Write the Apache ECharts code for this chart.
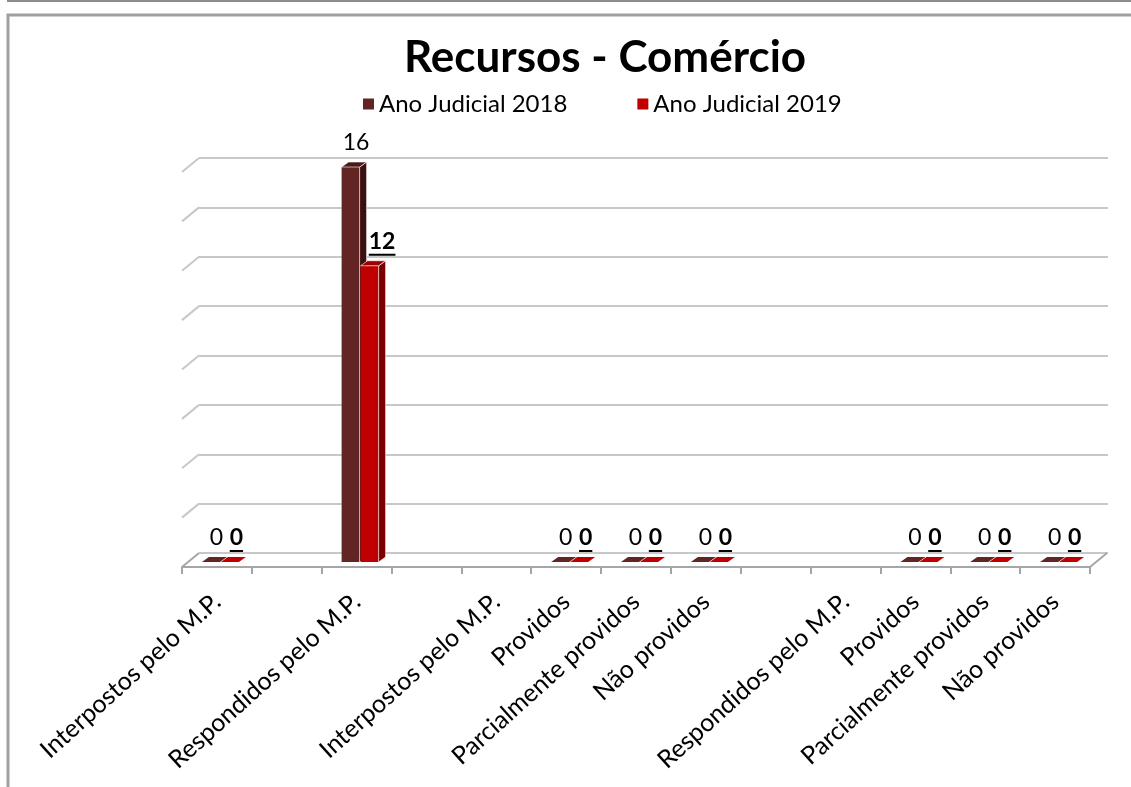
<!DOCTYPE html>
<html>
<head>
<meta charset="utf-8">
<script src="https://cdn.jsdelivr.net/npm/echarts@6/dist/echarts.min.js"></script>
<style>
html, body { margin: 0; padding: 0; background: #fff; }
#chart { width: 1131px; height: 787px; }
</style>
</head>
<body>
<div id="chart"></div>
<script>
// categorias do eixo (os vazios são os espaços entre grupos)
var categorias = ['Interpostos pelo M.P.', '', 'Respondidos pelo M.P.', '', 'Interpostos pelo M.P.',
  'Providos', 'Parcialmente providos', 'Não providos', '', 'Respondidos pelo M.P.',
  'Providos', 'Parcialmente providos', 'Não providos'];
var ano2018 = [0, null, 16, null, null, 0, 0, 0, null, null, 0, 0, 0];
var ano2019 = [0, null, 12, null, null, 0, 0, 0, null, null, 0, 0, 0];
var nomesSeries = ['Ano Judicial 2018', 'Ano Judicial 2019'];
var linhasGrade = [0, 2, 4, 6, 8, 10, 12, 14, 16];

var cores = ['#632523', '#c00000'];
var coresLado = ['#3a1110', '#7a0000'];
var coresTopo = ['#4b1917', '#9a0000'];
var FONTE = 'Lato, "Open Sans", sans-serif';

// profundidade do "3D"
var PX = 17, PY = 14;   // parede do fundo
var BX = 7, BY = 5;     // espessura da barra
var LARG = 18;

var ctx = document.createElement('canvas').getContext('2d');
function larguraTexto (txt, font) {
  ctx.font = font;
  return ctx.measureText(txt).width;
}

function toData (arr) {
  var out = [];
  arr.forEach(function (v, i) {
    if (v !== null) out.push([i, v]);
  });
  return out;
}

function barra3d (si) {
  return function (params, api) {
    var k = api.value(0);
    var v = api.value(1);
    var base = api.coord([k, 0]);
    var topo = api.coord([k, v]);
    var x0 = base[0] + 3.5 + (si === 0 ? -LARG - 0.5 : 0.5);
    var yb = base[1] - 5;
    var yt = topo[1] - 5;
    var alto = yb - yt > 0.5;
    var kids = [];
    if (alto) {
      kids.push({ type: 'rect', shape: { x: x0, y: yt, width: LARG, height: yb - yt },
        style: { fill: cores[si] } });
      kids.push({ type: 'polygon', shape: { points: [[x0 + LARG, yb], [x0 + LARG, yt], [x0 + LARG + BX, yt - BY], [x0 + LARG + BX, yb - BY]] },
        style: { fill: coresLado[si], stroke: 'rgba(255,255,255,0.6)', lineWidth: 1 } });
    }
    kids.push({ type: 'polygon', shape: { points: [[x0, yt], [x0 + LARG, yt], [x0 + LARG + BX, yt - BY], [x0 + BX, yt - BY]] },
      style: { fill: alto ? coresTopo[si] : cores[si], stroke: alto ? 'rgba(255,255,255,0.6)' : null, lineWidth: 1 } });

    // rótulo de dados (2019 em negrito sublinhado)
    var txt = String(v);
    var font = (si === 1 ? 'bold ' : '') + '23px ' + FONTE;
    var cx = x0 + (LARG + BX) / 2 + (si === 1 ? (alto ? 9 : 3) : 2);
    var ty = yt - BY - 8;
    kids.push({ type: 'text', style: { text: txt, x: cx, y: ty, align: 'center', verticalAlign: 'bottom',
      font: font, fill: '#000' } });
    if (si === 1) {
      var w = larguraTexto(txt, font);
      kids.push({ type: 'line', shape: { x1: cx - w / 2, y1: ty + 2, x2: cx + w / 2, y2: ty + 2 },
        style: { stroke: '#000', lineWidth: 2 } });
    }
    return { type: 'group', children: kids };
  };
}

function diagonais (params, api) {
  var v = api.value(1);
  var p = api.coord([0, v]);
  var band = api.size([1, 0])[0];
  var esq = p[0] - band / 2;
  var kids = [{ type: 'line', shape: { x1: esq, y1: p[1], x2: esq + PX, y2: p[1] - PY },
    style: { stroke: v === 0 ? '#a6a6a6' : '#c8c8c8', lineWidth: 2 } }];
  if (v === 0) {
    var dir = api.coord([categorias.length - 1, 0])[0] + band / 2;
    kids.push({ type: 'line', shape: { x1: dir, y1: p[1], x2: dir + PX, y2: p[1] - PY },
      style: { stroke: '#a6a6a6', lineWidth: 2 } });
  }
  return { type: 'group', children: kids };
}

var chart = echarts.init(document.getElementById('chart'));
var option = {
  backgroundColor: '#fff',
  animation: false,
  title: {
    text: 'Recursos - Comércio',
    left: 399,
    top: 31,
    textStyle: { fontFamily: FONTE, fontSize: 44, fontWeight: 'bold', color: '#000' }
  },
  legend: {
    data: nomesSeries,
    top: 87,
    left: 358,
    icon: 'rect',
    itemWidth: 11,
    itemHeight: 11,
    itemGap: 70,
    textStyle: { fontFamily: FONTE, fontSize: 24, color: '#000' }
  },
  graphic: [
    { type: 'line', shape: { x1: 7, y1: 1, x2: 1131, y2: 1 }, style: { stroke: '#8c8c8c', lineWidth: 2 } },
    { type: 'polyline', shape: { points: [[8, 787], [8, 15], [1131, 15]] }, style: { stroke: '#a0a0a0', lineWidth: 3, fill: null } }
  ],
  grid: [
    { left: 199, right: 23, top: 158, bottom: 234 }, // parede do fundo
    { left: 182, right: 41, top: 172, bottom: 220 }  // plano da frente
  ],
  xAxis: [
    { gridIndex: 0, type: 'category', data: categorias, show: false },
    {
      gridIndex: 1,
      type: 'category',
      data: categorias,
      axisLine: { lineStyle: { color: '#a6a6a6', width: 2 } },
      axisTick: { show: true, interval: 0, length: 7, lineStyle: { color: '#a6a6a6', width: 2 } },
      axisLabel: { interval: 0, rotate: 42, margin: 31, fontFamily: FONTE, fontSize: 25, color: '#000' }
    }
  ],
  yAxis: [
    {
      gridIndex: 0, type: 'value', min: 0, max: 16, interval: 2,
      axisLine: { show: false }, axisTick: { show: false }, axisLabel: { show: false },
      splitLine: { show: true, lineStyle: { color: '#c8c8c8', width: 2 } }
    },
    { gridIndex: 1, type: 'value', min: 0, max: 16, interval: 2, show: false }
  ],
  series: [
    {
      name: nomesSeries[0], type: 'custom', xAxisIndex: 1, yAxisIndex: 1, z: 5,
      itemStyle: { color: cores[0] },
      renderItem: barra3d(0), data: toData(ano2018)
    },
    {
      name: nomesSeries[1], type: 'custom', xAxisIndex: 1, yAxisIndex: 1, z: 6,
      itemStyle: { color: cores[1] },
      renderItem: barra3d(1), data: toData(ano2019)
    },
    {
      name: 'grade', type: 'custom', xAxisIndex: 1, yAxisIndex: 1, z: 1, silent: true,
      renderItem: diagonais, data: linhasGrade.map(function (v) { return [0, v]; })
    }
  ]
};
chart.setOption(option);
</script>
</body>
</html>
